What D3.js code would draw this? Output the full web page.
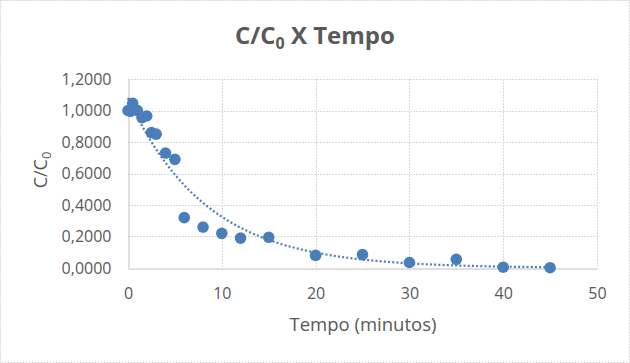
<!DOCTYPE html>
<html><head><meta charset="utf-8">
<script src="https://cdn.jsdelivr.net/npm/d3@7"></script>
<style>body{margin:0;background:#fff}svg{display:block}</style>
</head><body><svg id="c" width="630" height="363"></svg>
<script>
const tempo = [0, 0.25, 0.5, 1, 1.5, 2, 2.5, 3, 4, 5, 6, 8, 10, 12, 15, 20, 25, 30, 35, 40, 45];
const cc0   = [1.0, 0.995, 1.045, 1.0, 0.955, 0.965, 0.86, 0.85, 0.73, 0.69, 0.32, 0.26, 0.22, 0.19, 0.195, 0.08, 0.085, 0.035, 0.055, 0.005, 0.002];
const xTicks = [0, 10, 20, 30, 40, 50];
const yTicks = [0, 0.2, 0.4, 0.6, 0.8, 1.0, 1.2];
// exponential trendline y = a*exp(-b*x), as shown in the chart
const trendA = 1.08, trendB = 0.12;

const svg = d3.select('#c');
const font = "'Open Sans', sans-serif";
const txt = '#595959';
const blue = '#4A7EBB';
const L = 128, R = 597, T = 79, B = 268;
const x = d3.scaleLinear().domain([0, 50]).range([L, R]);
const y = d3.scaleLinear().domain([0, 1.2]).range([B, T]);

svg.append('rect').attr('x', 0.5).attr('y', 0.5).attr('width', 629).attr('height', 362)
  .attr('fill', '#fff').attr('stroke', '#D9D9D9').attr('stroke-dasharray', '2 1');

// gridlines
svg.append('g').selectAll('line').data(yTicks.filter(d => d > 0)).join('line')
  .attr('x1', L).attr('x2', R).attr('y1', d => Math.round(y(d)) + 0.5).attr('y2', d => Math.round(y(d)) + 0.5)
  .attr('stroke', '#D9D9D9').attr('stroke-dasharray', '2 1');
svg.append('g').selectAll('line').data(xTicks.filter(d => d > 0)).join('line')
  .attr('y1', T).attr('y2', B).attr('x1', d => Math.round(x(d)) + 0.5).attr('x2', d => Math.round(x(d)) + 0.5)
  .attr('stroke', '#D9D9D9').attr('stroke-dasharray', '2 1');

// axes
const xAxis = svg.append('g').attr('transform', `translate(0,${Math.round(y(0)) + 0.5})`)
  .call(d3.axisBottom(x).tickValues(xTicks).tickSize(0).tickPadding(19).tickFormat(d3.format('d')));
const yAxis = svg.append('g').attr('transform', `translate(${Math.round(x(0)) + 0.5},0)`)
  .call(d3.axisLeft(y).tickValues(yTicks).tickSize(0).tickPadding(17).tickFormat(d => d.toFixed(4).replace('.', ',')));
[xAxis, yAxis].forEach(g => {
  g.select('.domain').attr('stroke', '#BFBFBF');
  g.selectAll('text').attr('fill', txt).style('font-family', font).style('font-size', '16px');
});

// trendline
const tx = d3.range(0, 45.01, 0.25);
svg.append('path').datum(tx)
  .attr('d', d3.line().x(d => x(d)).y(d => y(trendA * Math.exp(-trendB * d))))
  .attr('fill', 'none').attr('stroke', blue).attr('stroke-width', 2.2).attr('stroke-dasharray', '2 2.2');

// points
svg.append('g').selectAll('circle').data(tempo.map((t, i) => [t, cc0[i]])).join('circle')
  .attr('cx', d => x(d[0])).attr('cy', d => y(d[1])).attr('r', 5.8).attr('fill', blue);

// title
const title = svg.append('text').attr('x', 315).attr('y', 44).attr('text-anchor', 'middle')
  .attr('fill', txt).style('font-family', font).style('font-size', '24px').style('font-weight', 'bold');
title.append('tspan').text('C/C');
title.append('tspan').text('0').attr('dy', 5).style('font-size', '16px');
title.append('tspan').text(' X Tempo').attr('dy', -5);

svg.append('text').attr('x', 363).attr('y', 331).attr('text-anchor', 'middle')
  .attr('fill', txt).style('font-family', font).style('font-size', '18.5px').text('Tempo (minutos)');

const yt = svg.append('text').attr('transform', 'translate(47,170) rotate(-90)').attr('text-anchor', 'middle')
  .attr('fill', txt).style('font-family', font).style('font-size', '18px');
yt.append('tspan').text('C/C');
yt.append('tspan').text('0').attr('dy', 4).style('font-size', '13px');
</script></body></html>
